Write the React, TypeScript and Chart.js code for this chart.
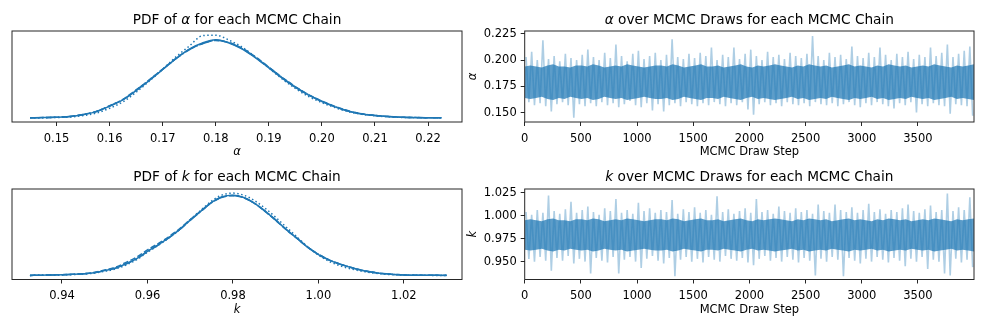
import React, { useEffect, useRef } from "react";
import { Chart, registerables } from "chart.js";
Chart.register(...registerables);

const FONT = "DejaVu Sans";
const C0 = "#1f77b4";

// ---------- PDF of alpha (KDE per chain) ----------
const alphaGrid = [0.145,0.1475,0.15,0.1525,0.155,0.1575,0.16,0.1625,0.165,0.1675,0.17,0.1725,0.175,0.1775,0.18,0.1825,0.185,0.1875,0.19,0.1925,0.195,0.1975,0.2,0.2025,0.205,0.2075,0.21,0.2125,0.215,0.2175,0.22,0.2225];
const alphaChain0 = [0,0.13,0.29,0.67,1.68,3.36,6.3,9.66,14.7,20.2,26.0,31.9,37.0,40.3,42.0,40.3,37.0,32.3,26.9,21.4,16.4,12.2,8.8,5.9,3.6,2.1,1.26,0.67,0.34,0.17,0.08,0.0];
const alphaChain1 = [0,0.15,0.33,0.75,1.8,3.5,6.5,10.0,15.0,20.5,26.3,32.0,36.8,40.0,41.6,40.5,37.4,32.8,27.3,21.8,16.8,12.5,9.0,6.1,3.8,2.2,1.3,0.7,0.35,0.18,0.08,0.0];
const alphaChain2 = [0.0,0.08,0.2,0.45,1.2,2.6,5.2,8.6,13.8,19.8,26.2,32.8,38.6,44.2,44.5,41.8,38.0,32.6,26.8,21.0,15.8,11.5,8.2,5.5,3.3,1.9,1.1,0.55,0.25,0.1,0.04,0.0];
const alphaChain3 = [0.0,0.14,0.3,0.7,1.75,3.45,6.4,9.8,14.9,20.4,26.1,31.8,36.6,39.9,41.7,40.4,37.2,32.5,27.2,21.7,16.7,12.4,9.0,6.0,3.7,2.15,1.3,0.7,0.36,0.18,0.09,0.03];
const alphaPdfTicks = [0.15,0.16,0.17,0.18,0.19,0.2,0.21,0.22];

// ---------- PDF of k (KDE per chain) ----------
const kGrid = [0.9325,0.935,0.9375,0.94,0.9425,0.945,0.9475,0.95,0.9525,0.955,0.9575,0.96,0.9625,0.965,0.9675,0.97,0.9725,0.975,0.9775,0.98,0.9825,0.985,0.9875,0.99,0.9925,0.995,0.9975,1.0,1.0025,1.005,1.0075,1.01,1.0125,1.015,1.0175,1.02,1.0225,1.025,1.0275,1.03];
const kChain0 = [0,0.06,0.16,0.25,0.41,0.63,1.04,1.89,2.84,4.57,6.62,9.45,11.97,14.8,17.96,21.7,25.2,28.7,30.9,31.5,30.6,28.35,25.2,21.7,17.96,14.5,11.0,8.19,5.99,4.41,3.15,2.05,1.26,0.69,0.38,0.19,0.09,0.05,0.02,0];
const kChain1 = [0,0.07,0.18,0.28,0.45,0.7,1.15,2.1,3.2,5.1,7.2,10.0,12.5,15.2,18.3,21.9,25.3,28.6,30.7,31.3,30.5,28.3,25.1,21.6,17.9,14.5,11.1,8.3,6.1,4.5,3.2,2.1,1.3,0.72,0.4,0.2,0.1,0.06,0.03,0.01];
const kChain2 = [0,0.04,0.12,0.2,0.33,0.52,0.9,1.6,2.5,4.1,6.2,9.1,11.8,14.7,18.0,21.9,25.6,29.2,31.6,32.3,31.5,29.4,26.4,22.8,18.9,15.1,11.2,8.0,5.5,3.8,2.6,1.7,1.0,0.55,0.28,0.13,0.06,0.02,0.0,0];
const kChain3 = [0,0.06,0.15,0.24,0.4,0.62,1.0,1.85,2.8,4.5,6.55,9.35,11.9,14.7,17.9,21.6,25.1,28.6,30.8,31.4,30.6,28.4,25.3,21.8,18.0,14.6,11.1,8.3,6.1,4.5,3.2,2.1,1.3,0.72,0.4,0.2,0.1,0.05,0.03,0.01];
const kPdfTicks = [0.94,0.96,0.98,1.0,1.02];

// ---------- Traces: extremes and dense core per 50-draw bin ----------
const drawBinSize = 50;
const alphaTraceHigh = [0.203,0.208,0.200,0.219,0.201,0.204,0.199,0.206,0.202,0.200,0.205,0.210,0.203,0.200,0.207,0.202,0.215,0.204,0.199,0.206,0.209,0.201,0.204,0.207,0.200,0.205,0.220,0.203,0.201,0.206,0.202,0.207,0.204,0.212,0.200,0.205,0.203,0.212,0.201,0.206,0.210,0.204,0.200,0.208,0.203,0.205,0.201,0.207,0.204,0.202,0.206,0.223,0.204,0.200,0.207,0.203,0.205,0.201,0.213,0.204,0.202,0.207,0.203,0.212,0.205,0.200,0.206,0.203,0.208,0.201,0.205,0.203,0.212,0.204,0.207,0.215,0.203,0.206,0.209,0.213];
const alphaTraceLow = [0.160,0.157,0.159,0.156,0.151,0.158,0.160,0.157,0.145,0.158,0.156,0.159,0.156,0.160,0.157,0.159,0.155,0.158,0.161,0.157,0.155,0.159,0.152,0.158,0.151,0.157,0.159,0.156,0.160,0.158,0.156,0.159,0.157,0.160,0.158,0.156,0.159,0.157,0.160,0.153,0.148,0.158,0.160,0.157,0.159,0.156,0.160,0.158,0.157,0.159,0.156,0.160,0.158,0.157,0.159,0.156,0.158,0.160,0.157,0.155,0.159,0.157,0.160,0.158,0.156,0.154,0.159,0.157,0.160,0.150,0.158,0.156,0.159,0.157,0.156,0.149,0.158,0.157,0.156,0.147];
const alphaCoreHigh = [0.194,0.195,0.194,0.193,0.195,0.196,0.194,0.194,0.193,0.195,0.195,0.194,0.196,0.195,0.193,0.194,0.195,0.194,0.196,0.195,0.194,0.193,0.194,0.195,0.195,0.194,0.196,0.195,0.193,0.194,0.195,0.196,0.194,0.194,0.195,0.193,0.194,0.195,0.196,0.194,0.193,0.195,0.194,0.195,0.196,0.195,0.194,0.193,0.195,0.194,0.196,0.195,0.194,0.195,0.193,0.194,0.195,0.196,0.194,0.195,0.194,0.193,0.195,0.194,0.196,0.195,0.194,0.195,0.193,0.194,0.195,0.194,0.196,0.195,0.194,0.193,0.195,0.194,0.195,0.196];
const alphaCoreLow = [0.164,0.163,0.164,0.165,0.163,0.162,0.164,0.163,0.165,0.164,0.163,0.164,0.162,0.163,0.165,0.164,0.163,0.164,0.162,0.163,0.164,0.165,0.164,0.163,0.163,0.164,0.162,0.163,0.165,0.164,0.163,0.162,0.164,0.164,0.163,0.165,0.164,0.163,0.162,0.164,0.165,0.163,0.164,0.163,0.162,0.163,0.164,0.165,0.163,0.164,0.162,0.163,0.164,0.163,0.165,0.164,0.163,0.162,0.164,0.163,0.164,0.165,0.163,0.164,0.162,0.163,0.164,0.163,0.165,0.164,0.163,0.164,0.162,0.163,0.164,0.165,0.163,0.164,0.163,0.162];
const alphaTraceTicks = [0.15,0.175,0.2,0.225];

const kTraceHigh = [1.004,1.001,1.006,1.003,1.022,1.005,1.002,1.007,1.015,1.003,1.006,1.010,1.004,1.001,1.008,1.005,1.018,1.003,1.006,1.002,1.014,1.005,1.008,1.003,1.006,1.004,1.017,1.002,1.007,1.004,1.009,1.003,1.006,1.001,1.021,1.004,1.007,1.002,1.005,1.008,1.003,1.018,1.004,1.006,1.002,1.010,1.005,1.003,1.008,1.004,1.006,1.002,1.012,1.005,1.003,1.012,1.006,1.004,1.009,1.003,1.006,1.013,1.004,1.007,1.002,1.006,1.004,1.008,1.012,1.005,1.003,1.007,1.011,1.004,1.006,1.024,1.005,1.009,1.006,1.020];
const kTraceLow = [0.953,0.950,0.955,0.951,0.940,0.954,0.951,0.956,0.948,0.953,0.950,0.937,0.954,0.951,0.949,0.955,0.937,0.952,0.955,0.950,0.943,0.953,0.956,0.951,0.948,0.954,0.934,0.952,0.955,0.950,0.953,0.949,0.955,0.952,0.950,0.956,0.953,0.951,0.954,0.949,0.946,0.953,0.956,0.951,0.954,0.950,0.955,0.952,0.949,0.954,0.951,0.935,0.953,0.950,0.955,0.952,0.934,0.954,0.951,0.948,0.953,0.950,0.955,0.952,0.949,0.954,0.951,0.945,0.953,0.950,0.955,0.942,0.952,0.950,0.937,0.935,0.953,0.949,0.952,0.944];
const kCoreHigh = [0.995,0.996,0.995,0.994,0.996,0.997,0.995,0.995,0.994,0.996,0.996,0.995,0.997,0.996,0.994,0.995,0.996,0.995,0.997,0.996,0.995,0.994,0.995,0.996,0.996,0.995,0.997,0.996,0.994,0.995,0.996,0.997,0.995,0.995,0.996,0.994,0.995,0.996,0.997,0.995,0.994,0.996,0.995,0.996,0.997,0.996,0.995,0.994,0.996,0.995,0.997,0.996,0.995,0.996,0.994,0.995,0.996,0.997,0.995,0.996,0.995,0.994,0.996,0.995,0.997,0.996,0.995,0.996,0.994,0.995,0.996,0.995,0.997,0.996,0.995,0.994,0.996,0.995,0.996,0.997];
const kCoreLow = [0.963,0.962,0.963,0.964,0.962,0.961,0.963,0.962,0.964,0.963,0.962,0.963,0.961,0.962,0.964,0.963,0.962,0.963,0.961,0.962,0.963,0.964,0.963,0.962,0.962,0.963,0.961,0.962,0.964,0.963,0.962,0.961,0.963,0.963,0.962,0.964,0.963,0.962,0.961,0.963,0.964,0.962,0.963,0.962,0.961,0.962,0.963,0.964,0.962,0.963,0.961,0.962,0.963,0.962,0.964,0.963,0.962,0.961,0.963,0.962,0.963,0.964,0.962,0.963,0.961,0.962,0.963,0.962,0.964,0.963,0.962,0.963,0.961,0.962,0.963,0.964,0.962,0.963,0.962,0.961];
const kTraceTicks = [0.95,0.975,1.0,1.025];

const drawTicks = [0,500,1000,1500,2000,2500,3000,3500];
const lastDraw = 3999;

const chainDashes = [[], [5.5, 2.4], [1.5, 2.5], [9.6, 2.4, 1.5, 2.4]];

// ---------- plugins ----------
const boxPlugin = {
  id: "box",
  afterDatasetsDraw(chart: any) {
    const { ctx, chartArea: a } = chart;
    ctx.save();
    ctx.strokeStyle = "#262626";
    ctx.lineWidth = 1;
    ctx.strokeRect(a.left, a.top, a.right - a.left, a.bottom - a.top);
    ctx.restore();
  },
};

const mixTitlePlugin = {
  id: "mixTitle",
  afterDraw(chart: any, _args: any, opts: any) {
    if (!opts || !opts.segments) return;
    const { ctx, chartArea: a } = chart;
    const size = opts.size;
    ctx.save();
    ctx.fillStyle = "#000";
    ctx.textBaseline = "alphabetic";
    const fonts = opts.segments.map((s: any) => `${s.italic ? "italic " : ""}${size}px "${FONT}"`);
    let total = 0;
    const widths = opts.segments.map((s: any, i: number) => {
      ctx.font = fonts[i];
      const w = ctx.measureText(s.text).width;
      total += w;
      return w;
    });
    let x = (a.left + a.right) / 2 - total / 2;
    opts.segments.forEach((s: any, i: number) => {
      ctx.font = fonts[i];
      ctx.textAlign = "left";
      ctx.fillText(s.text, x, opts.baseline);
      x += widths[i];
    });
    ctx.restore();
  },
};

const TICK_SIZE = 11.5;
const LABEL_SIZE = 11.5;
const TITLE_SIZE = 13.7;
const X_AXIS_H = 37;
const Y_AXIS_W = 58.2;

function xScale(min: number, max: number, ticks: number[], digits: number, title: string, italic: boolean) {
  return {
    type: "linear",
    min,
    max,
    afterBuildTicks: (s: any) => {
      s.ticks = ticks.map((v) => ({ value: v }));
    },
    afterFit: (s: any) => {
      s.height = X_AXIS_H;
    },
    ticks: {
      autoSkip: false,
      maxRotation: 0,
      minRotation: 0,
      padding: 6,
      color: "#000",
      font: { family: FONT, size: TICK_SIZE },
      callback: (v: any) => Number(v).toFixed(digits),
    },
    grid: { display: true, drawOnChartArea: false, drawTicks: true, tickLength: 4, tickColor: "#262626", tickWidth: 1 },
    border: { display: false },
    title: {
      display: true,
      text: title,
      color: "#000",
      padding: 0,
      font: { family: FONT, size: LABEL_SIZE, style: italic ? "italic" : "normal" },
    },
  };
}

function yTraceScale(min: number, max: number, ticks: number[], title: string) {
  return {
    type: "linear",
    position: "left",
    min,
    max,
    afterBuildTicks: (s: any) => {
      s.ticks = ticks.map((v) => ({ value: v }));
    },
    afterFit: (s: any) => {
      s.width = Y_AXIS_W;
    },
    ticks: {
      autoSkip: false,
      padding: 4,
      color: "#000",
      font: { family: FONT, size: TICK_SIZE },
      callback: (v: any) => Number(v).toFixed(3),
    },
    grid: { display: true, drawOnChartArea: false, drawTicks: true, tickLength: 4, tickColor: "#262626", tickWidth: 1 },
    border: { display: false },
    title: {
      display: true,
      text: title,
      color: "#000",
      padding: 0,
      font: { family: FONT, size: LABEL_SIZE, style: "italic" },
    },
  };
}

function pdfConfig(grid: number[], chains: number[][], xmin: number, xmax: number, ticks: number[], digits: number,
  label: string, segments: any[], baseline: number, pad: any) {
  const ymax = Math.max(...chains.map((c) => Math.max(...c)));
  return {
    type: "line",
    data: {
      datasets: chains.map((c, ci) => ({
        data: grid.map((x, i) => ({ x, y: c[i] })),
        borderColor: C0,
        borderWidth: 1.5,
        borderDash: chainDashes[ci],
        pointRadius: 0,
        fill: false,
        cubicInterpolationMode: "monotone",
      })),
    },
    options: {
      responsive: false,
      animation: false,
      devicePixelRatio: 1,
      layout: { padding: pad },
      plugins: { legend: { display: false }, tooltip: { enabled: false }, title: { display: false },
        mixTitle: { segments, baseline, size: TITLE_SIZE } },
      scales: {
        x: xScale(xmin, xmax, ticks, digits, label, true),
        y: { type: "linear", display: false, min: -0.05 * ymax, max: 1.05 * ymax },
      },
    },
    plugins: [boxPlugin, mixTitlePlugin],
  };
}

function traceConfig(high: number[], low: number[], coreHigh: number[], coreLow: number[], ymin: number, ymax: number,
  ticks: number[], label: string, segments: any[], baseline: number, pad: any) {
  const zig: any[] = [];
  high.forEach((h, i) => {
    zig.push({ x: i * drawBinSize + 12, y: h });
    zig.push({ x: i * drawBinSize + 37, y: low[i] });
  });
  const n = coreHigh.length;
  const coreX = (i: number) => (i * lastDraw) / (n - 1);
  return {
    type: "line",
    data: {
      datasets: [
        {
          data: coreHigh.map((v, i) => ({ x: coreX(i), y: v })),
          borderColor: "rgba(31,119,180,0)",
          borderWidth: 0,
          pointRadius: 0,
          fill: "+1",
          backgroundColor: "rgba(31,119,180,0.72)",
          tension: 0,
          order: 1,
        },
        {
          data: coreLow.map((v, i) => ({ x: coreX(i), y: v })),
          borderColor: "rgba(31,119,180,0)",
          borderWidth: 0,
          pointRadius: 0,
          fill: false,
          tension: 0,
          order: 1,
        },
        {
          data: zig,
          borderColor: "rgba(31,119,180,0.36)",
          borderWidth: 1.6,
          pointRadius: 0,
          fill: false,
          tension: 0,
          order: 2,
        },
      ],
    },
    options: {
      responsive: false,
      animation: false,
      devicePixelRatio: 1,
      layout: { padding: pad },
      plugins: { legend: { display: false }, tooltip: { enabled: false }, title: { display: false },
        mixTitle: { segments, baseline, size: TITLE_SIZE } },
      scales: {
        x: xScale(0, lastDraw, drawTicks, 0, "MCMC Draw Step", false),
        y: yTraceScale(ymin, ymax, ticks, label),
      },
    },
    plugins: [boxPlugin, mixTitlePlugin],
  };
}

const W = 987;
const H = 329;

const configs = [
  () => pdfConfig(alphaGrid, [alphaChain0, alphaChain1, alphaChain2, alphaChain3], 0.1416, 0.2264, alphaPdfTicks, 2, "α",
    [{ text: "PDF of " }, { text: "α", italic: true }, { text: " for each MCMC Chain" }], 23.5,
    { left: 12, right: W - 462, top: 31, bottom: H - 122 - X_AXIS_H }),
  () => traceConfig(alphaTraceHigh, alphaTraceLow, alphaCoreHigh, alphaCoreLow, 0.141, 0.2278, alphaTraceTicks, "α",
    [{ text: "α", italic: true }, { text: " over MCMC Draws for each MCMC Chain" }], 23.5,
    { left: 524.7 - Y_AXIS_W, right: W - 974, top: 31, bottom: H - 122 - X_AXIS_H }),
  () => pdfConfig(kGrid, [kChain0, kChain1, kChain2, kChain3], 0.9283, 1.0336, kPdfTicks, 2, "k",
    [{ text: "PDF of " }, { text: "k", italic: true }, { text: " for each MCMC Chain" }], 181,
    { left: 12, right: W - 462, top: 189, bottom: H - 279.5 - X_AXIS_H }),
  () => traceConfig(kTraceHigh, kTraceLow, kCoreHigh, kCoreLow, 0.9305, 1.029, kTraceTicks, "k",
    [{ text: "k", italic: true }, { text: " over MCMC Draws for each MCMC Chain" }], 181,
    { left: 524.7 - Y_AXIS_W, right: W - 974, top: 189, bottom: H - 279.5 - X_AXIS_H }),
];

function ChartLayer({ make }: { make: () => any }) {
  const ref = useRef<HTMLCanvasElement | null>(null);
  useEffect(() => {
    const chart = new Chart(ref.current as HTMLCanvasElement, make());
    return () => chart.destroy();
  }, [make]);
  return (
    <canvas
      ref={ref}
      width={W}
      height={H}
      style={{ position: "absolute", left: 0, top: 0, width: W, height: H }}
    />
  );
}

export default function App() {
  return (
    <div style={{ position: "relative", width: W, height: H, background: "#fff", overflow: "hidden" }}>
      <style>{`body{margin:0;background:#fff}`}</style>
      {configs.map((m, i) => (
        <ChartLayer key={i} make={m} />
      ))}
    </div>
  );
}
